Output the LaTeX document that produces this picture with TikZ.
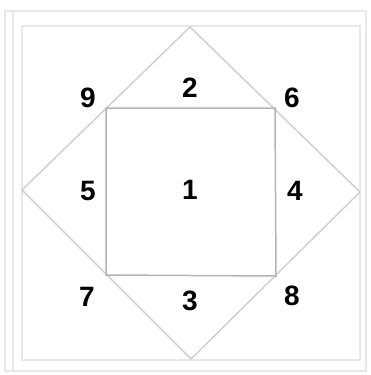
\documentclass[tikz,border=0pt]{standalone}
\usepackage{fontspec}
\setmainfont{Liberation Sans}
\usetikzlibrary{positioning}
\definecolor{FrameGray}{HTML}{E8E8E8}
\definecolor{DiamondGray}{HTML}{D0D0D0}
\definecolor{SquareGray}{HTML}{B4B4B4}

\begin{document}
\begin{tikzpicture}[x=1pt,y=-1pt, every node/.style={font=\fontsize{28}{30}\selectfont\bfseries}]
        \useasboundingbox (0,0) rectangle (370,375);
        % frames
        \draw[FrameGray,line width=1.2pt] (5,11) rectangle (366,371);
        \draw[FrameGray,line width=1.2pt] (13,11) -- (13,371);
        \draw[FrameGray,line width=1.2pt] (22,26) rectangle (360,360);
        % diamond
        \coordinate (dtop) at (190,27);
        \coordinate (dright) at (360,192);
        \coordinate (dbottom) at (191,359);
        \coordinate (dleft) at (22,190);
        \draw[DiamondGray,line width=1.5pt] (dtop) -- (dright) -- (dbottom) -- (dleft) -- cycle;
        % inner square
        \coordinate (stl) at (106,108);
        \coordinate (str) at (275,108);
        \coordinate (sbr) at (276,276);
        \coordinate (sbl) at (106,275);
        \draw[SquareGray,line width=1.5pt] (stl) -- (str) -- (sbr) -- (sbl) -- cycle;
        \node (n1) at (190,190) {1};
        \node (n2) at (190,88) {2};
        \node (n3) at (190,301) {3};
        \node (n4) at (295,191) {4};
        \node (n5) at (88,191) {5};
        \node (n6) at (292,98) {6};
        \node (n7) at (87,297) {7};
        \node (n8) at (292,296) {8};
        \node (n9) at (88,98) {9};
      \end{tikzpicture}
\end{document}
